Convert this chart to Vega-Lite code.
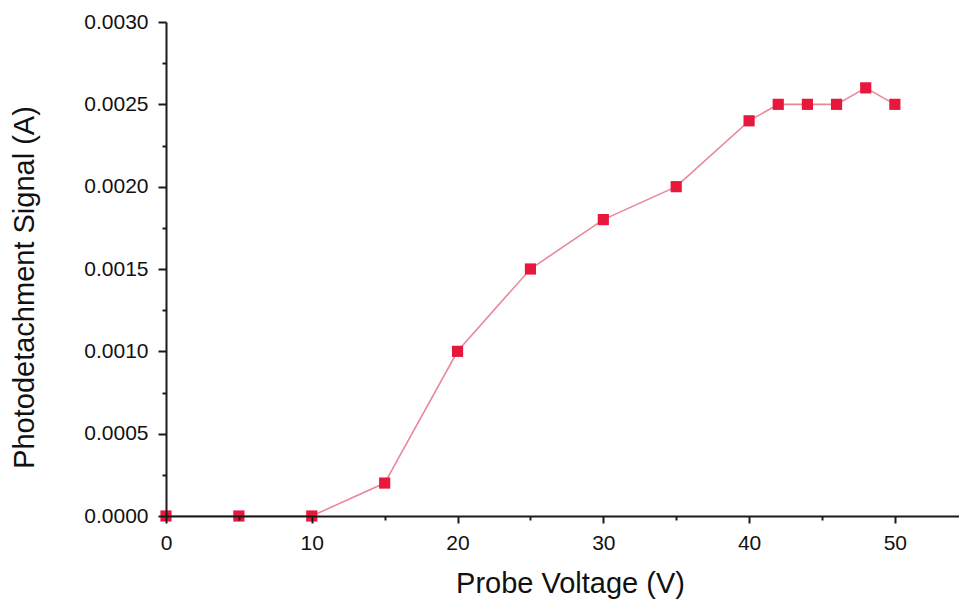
{
  "$schema": "https://vega.github.io/schema/vega-lite/v6.json",
  "autosize": "none",
  "width": 793,
  "height": 494,
  "padding": {"left": 166, "top": 22, "right": 0, "bottom": 84},
  "background": "white",
  "config": {"view": {"stroke": null}, "font": "Liberation Sans"},
  "data": {
    "values": [
      {"voltage": 0, "signal": 0},
      {"voltage": 5, "signal": 0},
      {"voltage": 10, "signal": 0},
      {"voltage": 15, "signal": 0.0002},
      {"voltage": 20, "signal": 0.0010},
      {"voltage": 25, "signal": 0.0015},
      {"voltage": 30, "signal": 0.0018},
      {"voltage": 35, "signal": 0.0020},
      {"voltage": 40, "signal": 0.0024},
      {"voltage": 42, "signal": 0.0025},
      {"voltage": 44, "signal": 0.0025},
      {"voltage": 46, "signal": 0.0025},
      {"voltage": 48, "signal": 0.0026},
      {"voltage": 50, "signal": 0.0025}
    ]
  },
  "encoding": {
    "x": {
      "field": "voltage",
      "type": "quantitative",
      "scale": {"domain": [0, 54.4], "nice": false, "zero": false},
      "axis": {
        "title": "Probe Voltage (V)",
        "values": [0, 5, 10, 15, 20, 25, 30, 35, 40, 45, 50],
        "labelExpr": "datum.value % 10 == 0 ? datum.label : ''",
        "grid": false,
        "domainColor": "#1a1a1a",
        "domainWidth": 2,
        "tickColor": "#1a1a1a",
        "tickWidth": 2,
        "tickSize": {"condition": {"test": "datum.value % 10 == 0", "value": 7}, "value": 4},
        "labelFontSize": 21,
        "labelColor": "#111",
        "labelPadding": 9,
        "labelFlush": false,
        "titleFontSize": 29,
        "titleFontWeight": "normal",
        "titleColor": "#111",
        "titleBaseline": "alphabetic",
        "titleX": 404,
        "titleY": 76,
        "zindex": 1
      }
    },
    "y": {
      "field": "signal",
      "type": "quantitative",
      "scale": {"domain": [0, 0.003], "nice": false},
      "axis": {
        "title": "Photodetachment Signal (A)",
        "values": [0, 0.00025, 0.0005, 0.00075, 0.001, 0.00125, 0.0015, 0.00175, 0.002, 0.00225, 0.0025, 0.00275, 0.003],
        "labelExpr": "abs(datum.value*2000 - round(datum.value*2000)) < 0.001 ? format(datum.value, '.4f') : ''",
        "grid": false,
        "domainColor": "#1a1a1a",
        "domainWidth": 2,
        "tickColor": "#1a1a1a",
        "tickWidth": 2,
        "tickSize": {"condition": {"test": "abs(datum.value*2000 - round(datum.value*2000)) < 0.001", "value": 8}, "value": 4},
        "labelFontSize": 21,
        "labelColor": "#111",
        "labelPadding": 10,
        "labelFlush": false,
        "titleFontSize": 29,
        "titleFontWeight": "normal",
        "titleColor": "#111",
        "titleBaseline": "alphabetic",
        "titleX": -133,
        "titleY": 265,
        "zindex": 1
      }
    }
  },
  "layer": [
    {"mark": {"type": "line", "color": "#e8899a", "strokeWidth": 1.6}},
    {"mark": {"type": "point", "shape": "square", "filled": true, "size": 125, "color": "#e8173c", "opacity": 1}}
  ]
}
